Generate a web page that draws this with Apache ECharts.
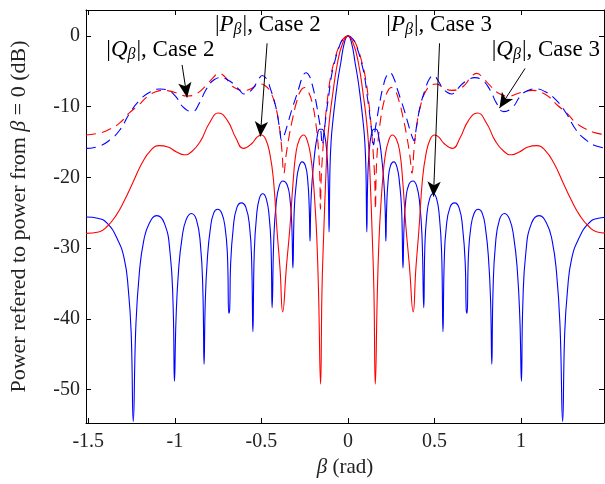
<!DOCTYPE html>
<html><head><meta charset="utf-8">
<script src="https://cdn.jsdelivr.net/npm/echarts@6/dist/echarts.min.js"></script>
<style>html,body{margin:0;padding:0;background:#fff}#c{width:605px;height:484px}</style>
</head><body><div id="c"></div>
<script>
// tick labels
const xTicks = [-1.5, -1, -0.5, 0, 0.5, 1];
const yTicks = [-50, -40, -30, -20, -10, 0];

// |P_beta|, Case 3 (blue solid)
const pCase3 = [
[-1.513,-25.6],[-1.44,-25.8],[-1.39,-26.5],[-1.336,-28.5],[-1.292,-31.5],[-1.268,-36],[-1.252,-42],[-1.24,-54.5],
[-1.225,-41],[-1.205,-33.5],[-1.18,-29],[-1.148,-26.5],[-1.104,-25.4],[-1.06,-26.5],[-1.028,-30.5],[-1.01,-38],[-1.002,-48.8],
[-0.993,-40],[-0.978,-33],[-0.958,-28.5],[-0.935,-26],[-0.905,-25.1],[-0.875,-26],[-0.852,-29.5],[-0.838,-36],[-0.831,-46.4],
[-0.824,-37.5],[-0.812,-31.5],[-0.795,-27.3],[-0.775,-25],[-0.752,-24.5],[-0.73,-25],[-0.71,-27],[-0.696,-31],[-0.688,-39.2],[-0.683,-38.6],
[-0.678,-32.5],[-0.662,-27],[-0.642,-24.3],[-0.616,-23.6],[-0.59,-24.2],[-0.568,-27],[-0.556,-32],[-0.549,-41.8],
[-0.541,-30.5],[-0.528,-25.5],[-0.512,-23],[-0.492,-22.3],[-0.472,-23],[-0.455,-25.5],[-0.444,-30],[-0.438,-38.4],
[-0.428,-28.5],[-0.415,-23.8],[-0.398,-21.3],[-0.376,-20.5],[-0.352,-21],[-0.335,-23],[-0.324,-27],[-0.318,-32.8],
[-0.31,-24.5],[-0.298,-20.8],[-0.284,-18.6],[-0.265,-17.8],[-0.245,-18.4],[-0.232,-20.5],[-0.224,-24],[-0.219,-29.0],
[-0.215,-24.5],[-0.207,-20.5],[-0.193,-16.8],[-0.178,-14.3],[-0.163,-13.2],[-0.15,-13.2],[-0.135,-14.0],[-0.122,-16.5],[-0.114,-20.5],[-0.109,-27.7],
[-0.104,-19],[-0.097,-14.8],[-0.086,-11.8],[-0.071,-8.6],[-0.058,-6.2],[-0.042,-3.9],[-0.02,-0.9],[0,0],
[0.02,-0.9],[0.042,-3.9],[0.058,-6.2],[0.071,-8.6],[0.086,-11.8],[0.097,-14.8],[0.104,-19],[0.109,-27.7],
[0.114,-20.5],[0.122,-16.5],[0.135,-14.0],[0.15,-13.2],[0.163,-13.2],[0.178,-14.3],[0.193,-16.8],[0.207,-20.5],[0.215,-24.5],[0.219,-29.0],
[0.224,-24],[0.232,-20.5],[0.245,-18.4],[0.265,-17.8],[0.284,-18.6],[0.298,-20.8],[0.31,-24.5],[0.318,-32.8],
[0.324,-27],[0.335,-23],[0.352,-21],[0.376,-20.5],[0.398,-21.3],[0.415,-23.8],[0.428,-28.5],[0.438,-38.4],
[0.444,-30],[0.455,-25.5],[0.472,-23],[0.492,-22.3],[0.512,-23],[0.528,-25.5],[0.541,-30.5],[0.549,-41.8],
[0.556,-32],[0.568,-27],[0.59,-24.2],[0.616,-23.6],[0.642,-24.3],[0.662,-27],[0.678,-32.5],[0.683,-38.6],[0.688,-39.2],
[0.696,-31],[0.71,-27],[0.73,-25],[0.752,-24.5],[0.775,-25],[0.795,-27.3],[0.812,-31.5],[0.824,-37.5],[0.831,-46.4],
[0.838,-36],[0.852,-29.5],[0.875,-26],[0.905,-25.1],[0.935,-26],[0.958,-28.5],[0.978,-33],[0.993,-40],[1.002,-48.8],
[1.01,-38],[1.028,-30.5],[1.06,-26.5],[1.104,-25.4],[1.148,-26.5],[1.18,-29],[1.205,-33.5],[1.225,-41],[1.24,-54.5],
[1.252,-42],[1.268,-36],[1.292,-31.5],[1.336,-28.5],[1.39,-26.5],[1.44,-25.8],[1.513,-25.6]
];

// |P_beta|, Case 2 (red solid)
const pCase2 = [
[-1.513,-27.9],[-1.44,-27.7],[-1.39,-26.9],[-1.34,-25.4],[-1.29,-23.2],[-1.24,-20.6],[-1.19,-18.0],[-1.14,-16.2],[-1.09,-15.5],[-1.04,-15.7],
[-0.99,-16.4],[-0.945,-16.8],[-0.9,-16.3],[-0.85,-14.8],[-0.8,-12.3],[-0.748,-10.9],[-0.695,-12],[-0.648,-14.4],[-0.603,-15.9],[-0.555,-15.2],
[-0.525,-14.3],[-0.5,-14.0],[-0.475,-14.6],[-0.45,-16.8],[-0.43,-20.4],[-0.41,-27.4],[-0.392,-33],[-0.377,-39.0],
[-0.355,-32.5],[-0.335,-27],[-0.316,-20.4],[-0.3,-16.5],[-0.28,-14.6],[-0.256,-14.0],[-0.235,-14.8],[-0.215,-17],[-0.2,-20.5],[-0.19,-24],[-0.18,-28.5],[-0.17,-36],[-0.158,-49.2],
[-0.15,-36],[-0.14,-28],[-0.128,-20],[-0.118,-15],[-0.105,-11.5],[-0.09,-8.6],[-0.061,-3.9],[-0.03,-1],[0,0],
[0.03,-1],[0.061,-3.9],[0.09,-8.6],[0.105,-11.5],[0.118,-15],[0.128,-20],[0.14,-28],[0.15,-36],[0.158,-49.2],
[0.17,-36],[0.18,-28.5],[0.19,-24],[0.2,-20.5],[0.215,-17],[0.235,-14.8],[0.256,-14.0],[0.28,-14.6],[0.3,-16.5],[0.316,-20.4],[0.335,-27],[0.355,-32.5],[0.377,-39.0],
[0.392,-33],[0.41,-27.4],[0.43,-20.4],[0.45,-16.8],[0.475,-14.6],[0.5,-14.0],[0.525,-14.3],[0.555,-15.2],[0.603,-15.9],[0.648,-14.4],
[0.695,-12],[0.748,-10.9],[0.8,-12.3],[0.85,-14.8],[0.9,-16.3],[0.945,-16.8],[0.99,-16.4],[1.04,-15.7],[1.09,-15.5],[1.14,-16.2],
[1.19,-18.0],[1.24,-20.6],[1.29,-23.2],[1.34,-25.4],[1.39,-26.9],[1.44,-27.7],[1.513,-27.9]
];

// |Q_beta|, Case 2 (red dashed)
const qCase2 = [
[-1.513,-14.0],[-1.43,-13.7],[-1.369,-13.1],[-1.318,-12.3],[-1.264,-10.9],[-1.21,-9.8],[-1.16,-8.6],[-1.11,-7.9],[-1.065,-7.7],[-1.03,-7.8],
[-0.984,-8.1],[-0.93,-8.5],[-0.87,-8.1],[-0.82,-7.0],[-0.782,-6.0],[-0.745,-5.3],[-0.71,-5.8],[-0.677,-6.9],[-0.64,-7.5],[-0.6,-7.7],
[-0.555,-7.4],[-0.51,-6.8],[-0.48,-7.0],[-0.45,-7.8],[-0.42,-9.8],[-0.398,-12.5],[-0.382,-16],[-0.37,-19.4],[-0.358,-17],[-0.34,-14.2],
[-0.318,-11.5],[-0.295,-9.2],[-0.272,-7.7],[-0.25,-7.3],[-0.228,-7.9],[-0.205,-9.6],[-0.186,-12.3],[-0.172,-15.5],[-0.163,-19.5],[-0.159,-24.5],
[-0.155,-20.5],[-0.148,-17.3],[-0.135,-13],[-0.119,-9.1],[-0.1,-5.8],[-0.075,-3.2],[-0.052,-1.5],[-0.03,-0.5],[0,0],
[0.03,-0.5],[0.052,-1.5],[0.075,-3.2],[0.1,-5.8],[0.119,-9.1],[0.135,-13],[0.148,-17.3],[0.155,-20.5],[0.159,-24.5],
[0.163,-19.5],[0.172,-15.5],[0.186,-12.3],[0.205,-9.6],[0.228,-7.9],[0.25,-7.3],[0.272,-7.7],[0.295,-9.2],[0.318,-11.5],[0.34,-14.2],
[0.358,-17],[0.37,-19.4],[0.382,-16],[0.398,-12.5],[0.42,-9.8],[0.45,-7.8],[0.48,-7.0],[0.51,-6.8],[0.555,-7.4],[0.6,-7.7],
[0.64,-7.5],[0.677,-6.9],[0.71,-5.8],[0.745,-5.3],[0.782,-6.0],[0.82,-7.0],[0.87,-8.1],[0.93,-8.5],[0.984,-8.1],[1.03,-7.8],
[1.065,-7.7],[1.11,-7.9],[1.16,-8.6],[1.21,-9.8],[1.264,-10.9],[1.318,-12.3],[1.369,-13.1],[1.43,-13.7],[1.513,-14.0]
];

// |Q_beta|, Case 3 (blue dashed)
const qCase3 = [
[-1.513,-15.9],[-1.44,-15.6],[-1.375,-14.7],[-1.318,-13.3],[-1.26,-10.9],[-1.2,-9.0],[-1.14,-7.9],[-1.085,-7.5],[-1.04,-7.7],[-0.993,-8.6],
[-0.954,-10.0],[-0.9,-10.7],[-0.858,-9.5],[-0.82,-7.6],[-0.773,-6.2],[-0.73,-5.9],[-0.696,-6.2],[-0.66,-6.8],[-0.625,-7.7],[-0.6,-8.2],
[-0.575,-8.0],[-0.545,-7.3],[-0.52,-6.3],[-0.494,-5.6],[-0.47,-6.1],[-0.446,-7.6],[-0.417,-10.0],[-0.395,-13.0],[-0.382,-14.8],[-0.37,-14.2],
[-0.35,-12.6],[-0.325,-10.5],[-0.305,-9.0],[-0.285,-7.5],[-0.262,-5.8],[-0.242,-5.2],[-0.222,-5.7],[-0.205,-7.0],[-0.186,-9.1],[-0.167,-11.8],
[-0.157,-13.3],[-0.148,-15.4],[-0.14,-14.0],[-0.13,-12.0],[-0.12,-10.0],[-0.11,-8.3],[-0.099,-6.2],[-0.08,-4.0],[-0.05,-1.5],[-0.03,-0.5],[0,0],
[0.03,-0.5],[0.05,-1.5],[0.08,-4.0],[0.099,-6.2],[0.11,-8.3],[0.12,-10.0],[0.13,-12.0],[0.14,-14.0],[0.148,-15.4],[0.157,-13.3],
[0.167,-11.8],[0.186,-9.1],[0.205,-7.0],[0.222,-5.7],[0.242,-5.2],[0.262,-5.8],[0.285,-7.5],[0.305,-9.0],[0.325,-10.5],[0.35,-12.6],
[0.37,-14.2],[0.382,-14.8],[0.395,-13.0],[0.417,-10.0],[0.446,-7.6],[0.47,-6.1],[0.494,-5.6],[0.52,-6.3],[0.545,-7.3],[0.575,-8.0],
[0.6,-8.2],[0.625,-7.7],[0.66,-6.8],[0.696,-6.2],[0.73,-5.9],[0.773,-6.2],[0.82,-7.6],[0.858,-9.5],[0.9,-10.7],[0.954,-10.0],
[0.993,-8.6],[1.04,-7.7],[1.085,-7.5],[1.14,-7.9],[1.2,-9.0],[1.26,-10.9],[1.318,-13.3],[1.375,-14.7],[1.44,-15.6],[1.513,-15.9]
];

// annotation placement (data coordinates)
const notes = [
  {sym:'Q', tag:'2', text:[-1.083,-1.98], from:[-0.958,-4.1], to:[-0.929,-8.7]},
  {sym:'P', tag:'2', text:[-0.463,1.54], from:[-0.467,-1.05], to:[-0.506,-14.2]},
  {sym:'P', tag:'3', text:[0.527,1.54], from:[0.529,-1.05], to:[0.494,-22.7]},
  {sym:'Q', tag:'3', text:[1.143,-1.98], from:[1.023,-4.6], to:[0.875,-10.2]}
];

const FONT = 'Liberation Serif';
const X_MIN = -1.513, X_MAX = 1.479, Y_MIN = -54.7, Y_MAX = 3.66;
const chart = echarts.init(document.getElementById('c'));

const noteRich = {
  n: {fontFamily: FONT, fontSize: 23, color: '#000'},
  i: {fontFamily: FONT, fontSize: 23, fontStyle: 'italic', color: '#000'},
  s: {fontFamily: FONT, fontSize: 16, fontStyle: 'italic', color: '#000', padding: [10, 1, 0, 0]}
};

const axisCommon = {
  type: 'value',
  axisLine: {onZero: false, lineStyle: {color: '#000', width: 1}},
  splitLine: {show: false}
};

function line(data, color, dashed) {
  return {
    type: 'line', data: data, showSymbol: false, symbol: 'none',
    smooth: 0.5,
    lineStyle: {color: color, width: 1.1, type: dashed ? [10, 6] : 'solid'},
    emphasis: {disabled: true}, silent: true, z: dashed ? 2 : 3
  };
}

const series = [
  line(qCase2, '#ff0000', true),
  line(qCase3, '#0000ff', true),
  line(pCase3, '#0000ff', false),
  line(pCase2, '#ff0000', false)
];
series.push({
  type: 'line', data: [], silent: true, z: 5,
  markLine: {
    silent: true, animation: false,
    lineStyle: {color: '#000', width: 1, type: 'solid'},
    label: {show: false},
    symbol: ['none', 'arrow'], symbolSize: [10, 15],
    data: notes.map(n => [{coord: n.from}, {coord: n.to}])
  },
  markPoint: {
    silent: true, animation: false, symbol: 'circle', symbolSize: 0,
    data: notes.map(n => ({
      coord: n.text,
      label: {show: true, position: 'inside',
        formatter: '{n||}{i|' + n.sym + '}{s|β}{n||, Case ' + n.tag + '}',
        rich: noteRich}
    }))
  }
});

chart.setOption({
  animation: false,
  backgroundColor: '#fff',
  grid: {left: 86, right: 1, top: 10, bottom: 61},
  xAxis: [
    Object.assign({}, axisCommon, {
      min: X_MIN, max: X_MAX, position: 'bottom',
      axisTick: {inside: true, length: 5, customValues: xTicks, lineStyle: {color: '#000'}},
      axisLabel: {customValues: xTicks, fontFamily: FONT, fontSize: 20, color: '#222', margin: 9},
      name: '{i|β} (rad)', nameLocation: 'middle', nameGap: 32,
      nameTextStyle: {fontFamily: FONT, fontSize: 21, color: '#222',
        rich: {i: {fontFamily: FONT, fontSize: 21, fontStyle: 'italic', color: '#222'}}}
    }),
    Object.assign({}, axisCommon, {
      min: X_MIN, max: X_MAX, position: 'top',
      axisTick: {inside: true, length: 5, customValues: xTicks, lineStyle: {color: '#000'}},
      axisLabel: {show: false}
    })
  ],
  yAxis: [
    Object.assign({}, axisCommon, {
      min: Y_MIN, max: Y_MAX, position: 'left',
      axisTick: {inside: true, length: 5, customValues: yTicks, lineStyle: {color: '#000'}},
      axisLabel: {customValues: yTicks, fontFamily: FONT, fontSize: 20, color: '#222', margin: 6},
      name: 'Power refered to power from {i|β} = 0 (dB)', nameLocation: 'middle', nameRotate: 90, nameGap: 56,
      nameTextStyle: {fontFamily: FONT, fontSize: 22, color: '#222',
        rich: {i: {fontFamily: FONT, fontSize: 22, fontStyle: 'italic', color: '#222'}}}
    }),
    Object.assign({}, axisCommon, {
      min: Y_MIN, max: Y_MAX, position: 'right',
      axisTick: {inside: true, length: 5, customValues: yTicks, lineStyle: {color: '#000'}},
      axisLabel: {show: false}
    })
  ],
  series: series
});
</script></body></html>
